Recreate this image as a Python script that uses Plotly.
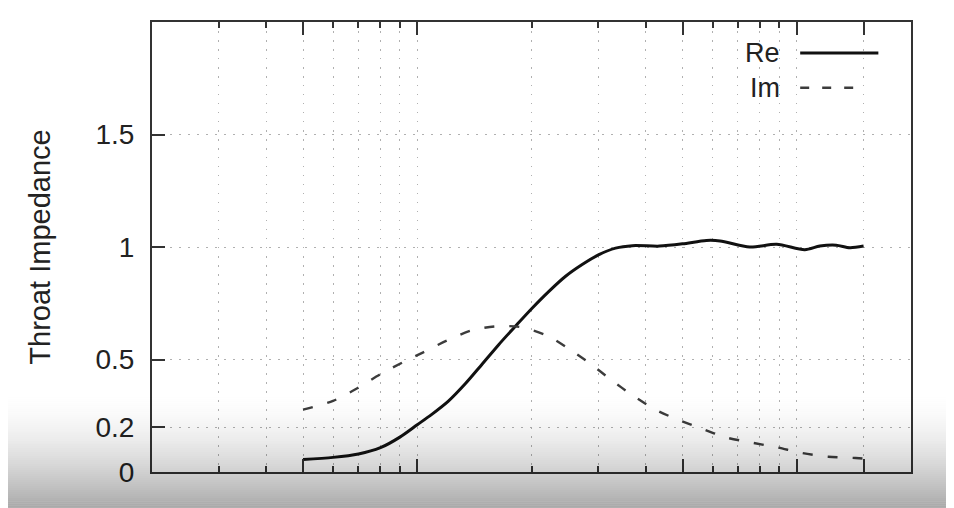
import math
import plotly.graph_objects as go

# ---- data ----
freq_re = [5, 6, 7, 8, 9, 10, 10.9, 12.08, 13.38, 14.8, 16.39, 18.14, 20.07, 22.23,
           24.6, 27.2, 30.1, 33.3, 36.9, 43.5, 50, 57.8, 62.8, 75.2, 88.5, 105, 115,
           127, 138, 150]
re_vals = [0.056, 0.065, 0.080, 0.108, 0.155, 0.210, 0.255, 0.315, 0.392, 0.478,
           0.566, 0.648, 0.728, 0.803, 0.870, 0.922, 0.966, 0.995, 1.006, 1.004,
           1.014, 1.029, 1.027, 1.000, 1.012, 0.988, 1.004, 1.008, 0.997, 1.004]

freq_im = [5, 6, 7, 8, 9.17, 10.37, 11.96, 13.83, 16.0, 18.6, 22.0, 25.1, 28.6, 32.4,
           36.9, 42.2, 48.5, 56.1, 65.3, 76.5, 89, 103, 121, 143, 150]
im_vals = [0.277, 0.316, 0.375, 0.435, 0.488, 0.532, 0.584, 0.628, 0.647, 0.645,
           0.606, 0.547, 0.481, 0.410, 0.341, 0.279, 0.233, 0.193, 0.153, 0.130,
           0.109, 0.085, 0.068, 0.062, 0.060]

x_major = [5, 10, 50, 100, 150]
x_minor = [3, 4, 6, 7, 8, 9, 20, 30, 40, 60, 70, 80, 90]
y_ticks = [0, 0.2, 0.5, 1, 1.5]
y_ticktext = ["0", "0.2", "0.5", "1", "1.5"]
series_names = ["Re", "Im"]

FONT = "Liberation Sans, Arial, sans-serif"
AX = "#333333"
GRID = "#b0b0b0"
GDASH = "1.5px,7.5px"
IM_DASH = "10px,15px"

fig = go.Figure()
fig.add_trace(go.Scatter(x=freq_re, y=re_vals, mode="lines", name=series_names[0],
                         line=dict(color="#111111", width=3, shape="spline", smoothing=0.8),
                         showlegend=False))
fig.add_trace(go.Scatter(x=freq_im, y=im_vals, mode="lines", name=series_names[1],
                         line=dict(color="#3c3c3c", width=2.4, dash=IM_DASH,
                                   shape="spline", smoothing=0.8),
                         showlegend=False))

# gnuplot-style legend (text on the left, sample on the right)
leg_y = [0.931, 0.854]
for name, yy in zip(series_names, leg_y):
    fig.add_annotation(xref="paper", yref="paper", x=0.830, y=yy, text=name,
                       showarrow=False, xanchor="right", yanchor="middle",
                       font=dict(family=FONT, size=27, color="#222222"))
fig.add_shape(type="line", xref="paper", yref="paper", x0=0.854, x1=0.957,
              y0=leg_y[0], y1=leg_y[0], line=dict(color="#111111", width=3))
fig.add_shape(type="line", xref="paper", yref="paper", x0=0.854, x1=0.937,
              y0=leg_y[1], y1=leg_y[1], line=dict(color="#3c3c3c", width=2.4, dash="9px,13px"))

# bottom grey gradient overlay (page px -> paper coords; page has 8px body margin)
PLOT_BOTTOM_PAGE, PLOT_H = 472, 452
g_top, g_bot = 390, 518
steps = 64
for i in range(steps):
    ya = g_top + (g_bot - g_top) * i / steps
    yb = g_top + (g_bot - g_top) * (i + 1) / steps
    t = min(1.0, (i + 0.5) / steps * (g_bot - g_top) / (508 - g_top))
    a = 0.34 * t ** 1.7
    fig.add_shape(type="rect", xref="paper", yref="paper", x0=-0.3, x1=1.1,
                  y0=(PLOT_BOTTOM_PAGE - yb) / PLOT_H, y1=(PLOT_BOTTOM_PAGE - ya) / PLOT_H,
                  line=dict(width=0), fillcolor=f"rgba(0,0,0,{a:.4f})", layer="above")

fig.update_layout(
    width=946, height=508,
    margin=dict(l=144, r=43, t=12, b=44),
    paper_bgcolor="white", plot_bgcolor="white",
    font=dict(family=FONT, size=27, color="#222222"),
    xaxis=dict(type="log", range=[math.log10(2), math.log10(200)],
               tickmode="array", tickvals=x_major, showticklabels=False,
               ticks="inside", ticklen=13, tickwidth=1.5, tickcolor=AX,
               showline=True, linecolor=AX, linewidth=2, mirror="ticks",
               showgrid=True, gridcolor=GRID, gridwidth=1.2, griddash=GDASH,
               zeroline=False,
               minor=dict(tickmode="array", tickvals=x_minor, ticks="inside",
                          ticklen=6, tickwidth=1.5, tickcolor=AX,
                          showgrid=True, gridcolor=GRID, gridwidth=1.2, griddash=GDASH)),
    yaxis=dict(range=[0, 2], tickmode="array", tickvals=y_ticks, ticktext=y_ticktext,
               ticks="inside", ticklen=13, tickwidth=1.5, tickcolor=AX,
               showline=True, linecolor=AX, linewidth=2, mirror=True,
               showgrid=True, gridcolor=GRID, gridwidth=1.2, griddash=GDASH,
               zeroline=False, ticklabelstandoff=10,
               tickfont=dict(family=FONT, size=28, color="#222222"),
               title=dict(text="Throat Impedance", standoff=36,
                          font=dict(family=FONT, size=29, color="#222222"))),
)

fig.write_html("out.html")
